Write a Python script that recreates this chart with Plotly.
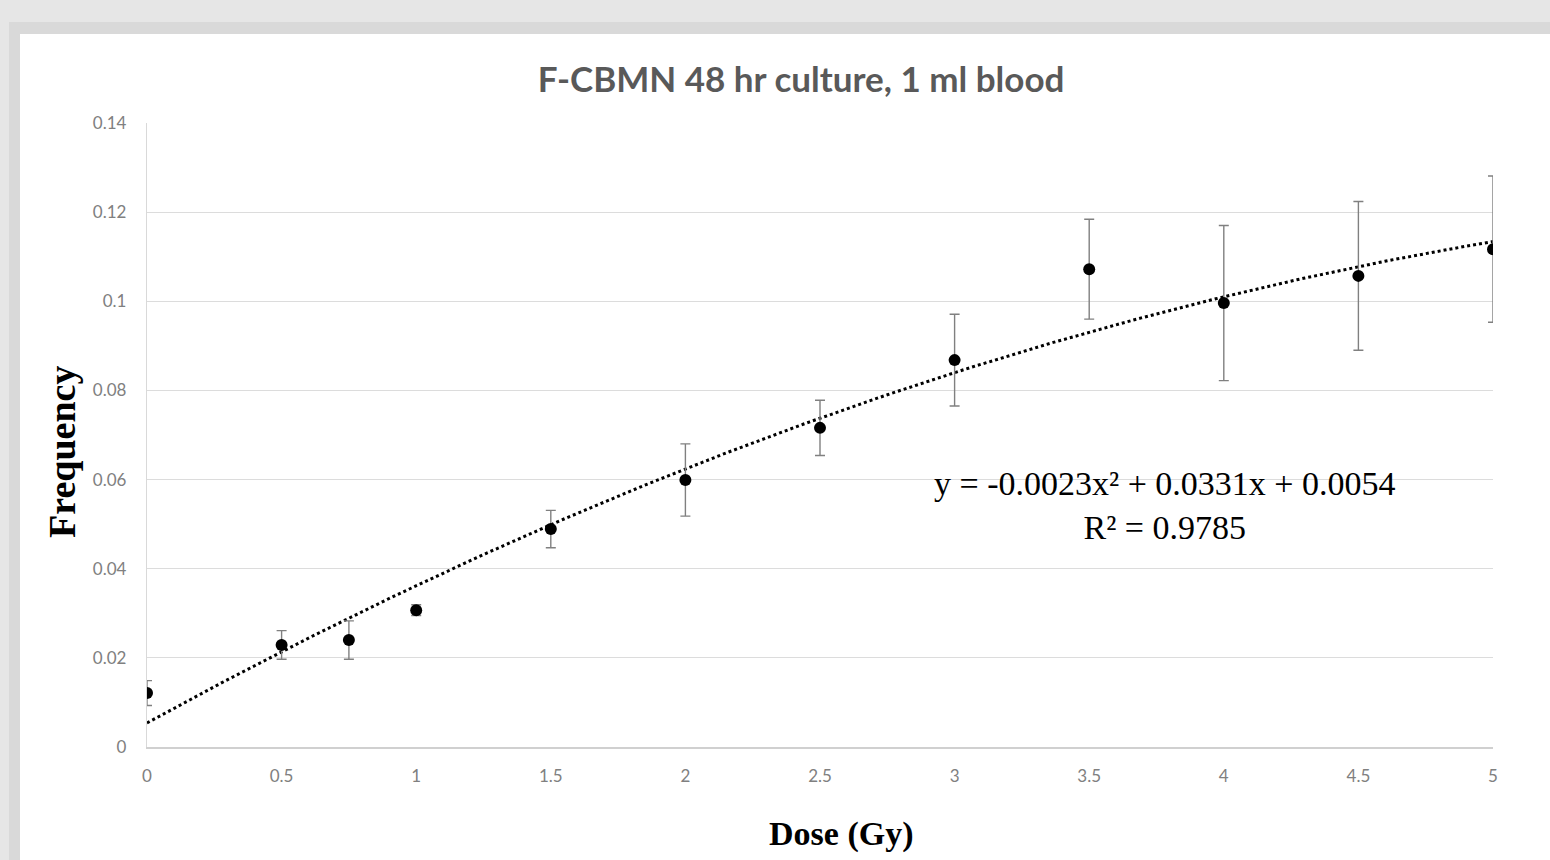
import numpy as np
import plotly.graph_objects as go

# Data
dose = [0, 0.5, 0.75, 1, 1.5, 2, 2.5, 3, 3.5, 4, 4.5, 5]
frequency = [0.0121, 0.0229, 0.0240, 0.0307, 0.0489, 0.0599, 0.0716, 0.0868, 0.1072, 0.0996, 0.1057, 0.1117]
error = [0.0028, 0.0032, 0.0043, 0.0012, 0.0042, 0.0081, 0.0062, 0.0103, 0.0112, 0.0174, 0.0167, 0.0164]

# Trendline coefficients as printed on the chart (a*x^2 + b*x + c)
trend_coeffs = [-0.0023, 0.0331, 0.0054]
r_squared = 0.9785

y_ticks = [0, 0.02, 0.04, 0.06, 0.08, 0.1, 0.12, 0.14]
y_tick_labels = ["0", "0.02", "0.04", "0.06", "0.08", "0.1", "0.12", "0.14"]
x_ticks = [0, 0.5, 1, 1.5, 2, 2.5, 3, 3.5, 4, 4.5, 5]
x_tick_labels = ["0", "0.5", "1", "1.5", "2", "2.5", "3", "3.5", "4", "4.5", "5"]

title_text = "F-CBMN 48 hr culture, 1 ml blood"
x_title = "Dose (Gy)"
y_title = "Frequency"

W, H = 1550, 860
L, R, T, B = 147, 57, 123, 113
PW, PH = W - L - R, H - T - B

def px_x(px):
    return (px - L) / PW

def px_y(py):
    return (H - B - py) / PH

trend_x = np.linspace(0, 5, 200)
trend_y = np.polyval(trend_coeffs, trend_x)

fig = go.Figure()

fig.add_trace(go.Scatter(
    x=trend_x, y=trend_y, mode="lines",
    line=dict(color="black", width=3, dash="dot"),
    hoverinfo="skip", showlegend=False,
))

fig.add_trace(go.Scatter(
    x=dose, y=frequency, mode="markers",
    marker=dict(color="black", size=12),
    error_y=dict(type="data", array=error, visible=True,
                 color="#808080", thickness=1.4, width=5),
    showlegend=False,
))

eq = "y = {:.4f}x² + {:.4f}x + {:.4f}<br>R² = {:.4f}".format(*trend_coeffs, r_squared)

fig.add_annotation(
    x=px_x(1165), y=px_y(505), xref="paper", yref="paper",
    xanchor="center", yanchor="middle",
    text=eq, showarrow=False, align="center",
    font=dict(family="Liberation Serif", size=34, color="black"),
)

fig.add_annotation(
    x=px_x(841), y=px_y(834), xref="paper", yref="paper",
    xanchor="center", yanchor="middle",
    text=x_title, showarrow=False,
    font=dict(family="Liberation Serif", size=34, color="black", weight="bold"),
)

fig.add_annotation(
    x=px_x(62), y=px_y(452), xref="paper", yref="paper",
    xanchor="center", yanchor="middle", textangle=-90,
    text=y_title, showarrow=False,
    font=dict(family="Liberation Serif", size=38, color="black", weight="bold"),
)

shapes = [
    dict(type="rect", xref="paper", yref="paper",
         x0=px_x(9), x1=px_x(1600), y0=px_y(22), y1=px_y(900),
         fillcolor="#d9d9d9", line=dict(width=0), layer="below"),
    dict(type="rect", xref="paper", yref="paper",
         x0=px_x(20), x1=px_x(1600), y0=px_y(34), y1=px_y(900),
         fillcolor="white", line=dict(width=0), layer="below"),
]

fig.update_layout(
    width=W, height=H,
    margin=dict(l=L, r=R, t=T, b=B),
    paper_bgcolor="#e6e6e6",
    plot_bgcolor="rgba(0,0,0,0)",
    shapes=shapes,
    title=dict(text=title_text, x=801 / W, xref="container", xanchor="center",
               y=1 - 80 / H, yref="container", yanchor="middle",
               font=dict(family="Lato", size=35, color="#595959", weight="bold")),
    xaxis=dict(
        range=[0, 5], tickvals=x_ticks, ticktext=x_tick_labels,
        showgrid=False, zeroline=False,
        showline=True, linecolor="#d0d0d0", linewidth=1.5,
        ticks="", tickfont=dict(family="Lato", size=17, color="#808080"),
        ticklabelstandoff=13,
    ),
    yaxis=dict(
        range=[0, 0.14], tickvals=y_ticks, ticktext=y_tick_labels,
        showgrid=True, gridcolor="#dcdcdc", gridwidth=1.3,
        zeroline=False,
        showline=True, linecolor="#d9d9d9", linewidth=1.3,
        ticks="", tickfont=dict(family="Lato", size=17, color="#808080"),
        ticklabelstandoff=16,
    ),
)

fig.write_html("out.html", config={"displayModeBar": False},
               post_script="document.body.style.margin='0';")
